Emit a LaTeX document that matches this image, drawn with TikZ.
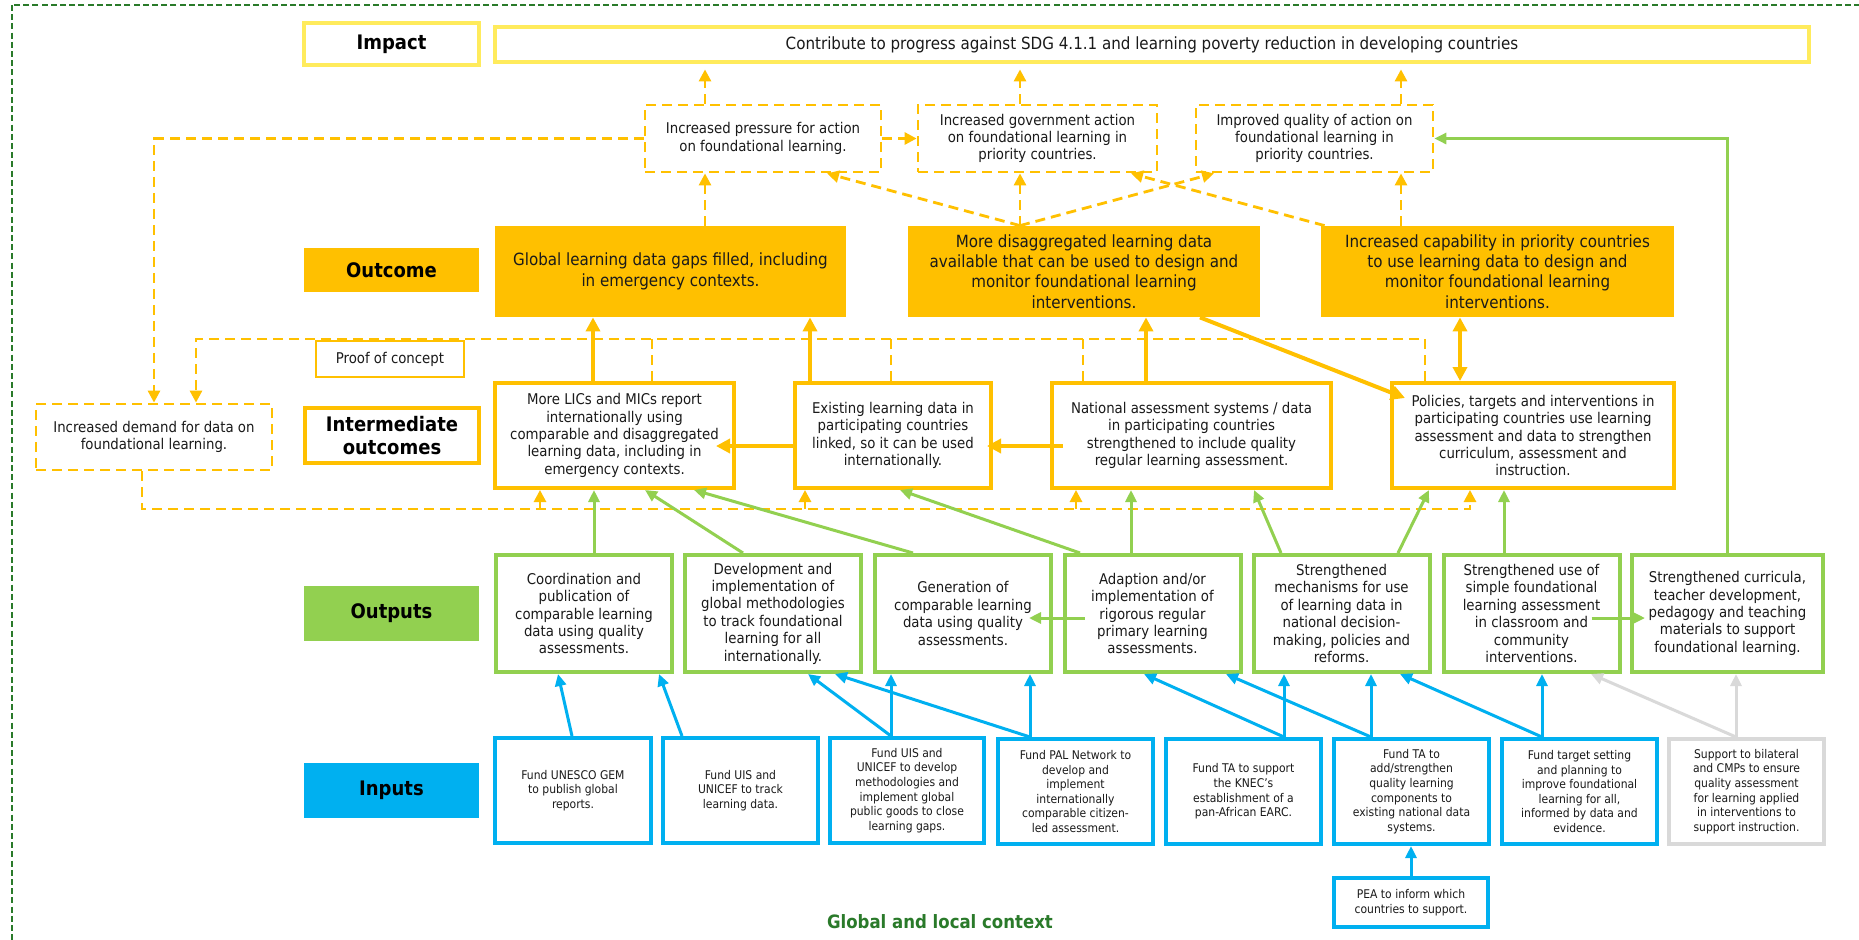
\documentclass[tikz,border=0pt]{standalone}
\usepackage{fontspec}
\setmainfont{DejaVu Sans Condensed}
\usetikzlibrary{arrows.meta,calc}

\definecolor{amber}{HTML}{FFC000}
\definecolor{lemon}{HTML}{FFEB5C}
\definecolor{leaf}{HTML}{92D050}
\definecolor{sky}{HTML}{00B0F0}
\definecolor{mist}{HTML}{D9D9D9}
\definecolor{forest}{HTML}{2A7A2A}
\definecolor{ink}{HTML}{1A1A1A}

\newcommand\fsbody{\fontsize{7.4}{8.7}\selectfont}
\newcommand\fsbig{\fontsize{8.4}{10.2}\selectfont}
\newcommand\fsimp{\fontsize{8.4}{10}\selectfont}
\newcommand\fssmall{\fontsize{6.0}{7.3}\selectfont}
\newcommand\fslab{\fontsize{10}{11.2}\selectfont\bfseries}

\tikzset{
  x=0.5pt, y=-0.5pt,
  sz/.style n args={2}{minimum width=#1*0.5pt, minimum height=#2*0.5pt},
  base/.style={inner sep=0pt, align=center, text=ink, font=\fsbody},
  lab/.style={base, font=\fslab, text=black},
  impbox/.style={base, draw=lemon, line width=2.4pt, fill=white},
  topbox/.style={base, draw=amber, line width=1.4pt, dash pattern=on 5pt off 3pt, fill=white},
  outcbox/.style={base, fill=amber, font=\fsbig},
  interbox/.style={base, draw=amber, line width=2pt, fill=white},
  outbox/.style={base, draw=leaf, line width=2pt, fill=white},
  inbox/.style={base, draw=sky, line width=2pt, fill=white, font=\fssmall},
  greybox/.style={base, draw=mist, line width=2pt, fill=white, font=\fssmall},
  amb/.style={draw=amber, line width=2pt, >={Triangle[length=7pt,width=7pt]}, ->},
  ambd/.style={draw=amber, line width=1.4pt, dash pattern=on 5pt off 3pt, >={Triangle[length=6pt,width=6pt]}, ->},
  ambl/.style={draw=amber, line width=1.4pt, dash pattern=on 5pt off 3pt},
  grn/.style={draw=leaf, line width=1.5pt, >={Triangle[length=6pt,width=5.5pt]}, ->},
  blu/.style={draw=sky, line width=1.5pt, >={Triangle[length=6pt,width=5.5pt]}, ->},
  gry/.style={draw=mist, line width=1.5pt, >={Triangle[length=6pt,width=5.5pt]}, ->},
  frame/.style={draw=forest, line width=1pt, dash pattern=on 3pt off 1.6pt},
}

\begin{document}
\begin{tikzpicture}
\useasboundingbox (0,0) rectangle (1859,939);
\fill[white] (0,0) rectangle (1859,939);
% outer context frame (runs off the right and bottom edges)
\draw[frame] (12,5) rectangle (1880,970);

% ---- row labels ----
\node[lab, sz={175}{42}, draw=lemon, line width=2.4pt] (LImp) at (391.5,44) {Impact};
\node[lab, sz={175}{44}, fill=amber] (LOut) at (391.5,270) {Outcome};
\node[lab, sz={174}{55}, draw=amber, line width=2pt] (LInt) at (392,435.5) {Intermediate\\outcomes};
\node[lab, sz={175}{55}, fill=leaf] (LOutp) at (391.5,613.5) {Outputs};
\node[lab, sz={175}{55}, fill=sky] (LIn) at (391.5,790.5) {Inputs};

% ---- impact ----
\node[impbox, sz={1314}{35}, font=\fsimp] (Imp) at (1152,44.5)
  {Contribute to progress against SDG 4.1.1 and learning poverty reduction in developing countries};

% ---- upper results ----
\node[topbox, sz={236}{67}] (Press) at (763,138.5) {Increased pressure for action\\on foundational learning.};
\node[topbox, sz={239}{67}] (Gov) at (1037.5,138.5) {Increased government action\\on foundational learning in\\priority countries.};
\node[topbox, sz={237}{67}] (Qual) at (1314.5,138.5) {Improved quality of action on\\foundational learning in\\priority countries.};

% ---- outcomes ----
\node[outcbox, sz={351}{91}] (O1) at (670.5,271.5) {Global learning data gaps filled, including\\in emergency contexts.};
\node[outcbox, sz={352}{91}] (O2) at (1084,271.5) {More disaggregated learning data\\available that can be used to design and\\monitor foundational learning\\interventions.};
\node[outcbox, sz={353}{91}] (O3) at (1497.5,271.5) {Increased capability in priority countries\\to use learning data to design and\\monitor foundational learning\\interventions.};

% ---- intermediate outcomes ----
\node[topbox, sz={236}{66}] (Demand) at (154,437) {Increased demand for data on\\foundational learning.};
\node[interbox, sz={239}{105}] (MLIC) at (614.5,435.5) {More LICs and MICs report\\internationally using\\comparable and disaggregated\\learning data, including in\\emergency contexts.};
\node[interbox, sz={196}{105}] (Exist) at (893,435.5) {Existing learning data in\\participating countries\\linked, so it can be used\\internationally.};
\node[interbox, sz={279}{105}] (Nat) at (1191.5,435.5) {National assessment systems / data\\in participating countries\\strengthened to include quality\\regular learning assessment.};
\node[interbox, sz={282}{105}] (Pol) at (1533,435.5) {Policies, targets and interventions in\\participating countries use learning\\assessment and data to strengthen\\curriculum, assessment and\\instruction.};

% ---- outputs ----
\node[outbox, sz={176}{117}] (Coord) at (584,613.5) {Coordination and\\publication of\\comparable learning\\data using quality\\assessments.};
\node[outbox, sz={176}{117}] (Dev) at (773,613.5) {Development and\\implementation of\\global methodologies\\to track foundational\\learning for all\\internationally.};
\node[outbox, sz={176}{117}] (Gen) at (963,613.5) {Generation of\\comparable learning\\data using quality\\assessments.};
\node[outbox, sz={176}{117}] (Adapt) at (1152.5,613.5) {Adaption and/or\\implementation of\\rigorous regular\\primary learning\\assessments.};
\node[outbox, sz={176}{117}] (Mech) at (1341.5,613.5) {Strengthened\\mechanisms for use\\of learning data in\\national decision-\\making, policies and\\reforms.};
\node[outbox, sz={176}{117}] (Use) at (1531.5,613.5) {Strengthened use of\\simple foundational\\learning assessment\\in classroom and\\community\\interventions.};
\node[outbox, sz={191}{117}] (Curr) at (1727.5,613.5) {Strengthened curricula,\\teacher development,\\pedagogy and teaching\\materials to support\\foundational learning.};

% ---- inputs ----
\node[inbox, sz={156}{105}] (GEM) at (573,790.5) {Fund UNESCO GEM\\to publish global\\reports.};
\node[inbox, sz={155}{105}] (UISt) at (740.5,790.5) {Fund UIS and\\UNICEF to track\\learning data.};
\node[inbox, sz={154}{105}] (UISd) at (907,790.5) {Fund UIS and\\UNICEF to develop\\methodologies and\\implement global\\public goods to close\\learning gaps.};
\node[inbox, sz={155}{105}] (PAL) at (1075.5,791.5) {Fund PAL Network to\\develop and\\implement\\internationally\\comparable citizen-\\led assessment.};
\node[inbox, sz={155}{105}] (KNEC) at (1243.5,791.5) {Fund TA to support\\the KNEC’s\\establishment of a\\pan-African EARC.};
\node[inbox, sz={155}{105}] (TAadd) at (1411.5,791.5) {Fund TA to\\add/strengthen\\quality learning\\components to\\existing national data\\systems.};
\node[inbox, sz={155}{105}] (Target) at (1579.5,791.5) {Fund target setting\\and planning to\\improve foundational\\learning for all,\\informed by data and\\evidence.};
\node[greybox, sz={155}{105}] (Support) at (1746.5,791.5) {Support to bilateral\\and CMPs to ensure\\quality assessment\\for learning applied\\in interventions to\\support instruction.};
\node[inbox, sz={154}{49}] (PEA) at (1411,902.5) {PEA to inform which\\countries to support.};

\node[font=\fontsize{9.2}{11}\selectfont\bfseries, text=forest] (Ctx) at (940,922) {Global and local context};

% ---- links up to the impact ----
\draw[ambd, shorten >=2.5pt] ($(Press.north)+(-58,0)$) coordinate (a1) -- (a1 |- Imp.south);
\draw[ambd, shorten >=2.5pt] ($(Gov.north)+(-17.5,0)$) coordinate (a2) -- (a2 |- Imp.south);
\draw[ambd, shorten >=2.5pt] ($(Qual.north)+(86.5,0)$) coordinate (a3) -- (a3 |- Imp.south);

% ---- outcomes to upper results ----
\draw[ambd] ($(O1.north)+(34.5,0)$) coordinate (b1) -- (b1 |- Press.south);
\draw[ambd] ($(O2.north)+(-64,0)$) coordinate (b2) -- (b2 |- Gov.south);
\draw[ambd] (b2) -- ($(Press.south)+(64,0)$);
\draw[ambd] (b2) -- ($(Qual.south)+(-100.5,0)$);
\draw[ambd] ($(O3.north west)+(4,0)$) -- ($(Gov.south)+(93.5,0)$);
\draw[ambd] ($(O3.north)+(-96.5,0)$) coordinate (b3) -- (b3 |- Qual.south);
\draw[ambd] (Press.east) -- (Gov.west);
\draw[ambd] (Press.west) -| (Demand.north);

% ---- proof of concept loop ----
\draw[ambd] ($(Pol.north)+(-108,0)$) -- ++(0,-42) -| ($(Demand.north)+(42,0)$);
\draw[ambl] ($(MLIC.north)+(37.5,0)$) -- ++(0,-42);
\draw[ambl] ($(Exist.north)+(-2,0)$) -- ++(0,-42);
\draw[ambl] ($(Nat.north)+(-108.5,0)$) -- ++(0,-42);
\node[base, sz={148}{36}, draw=amber, line width=1pt, fill=white] (Proof) at (390,359) {Proof of concept};

% ---- demand feeding back below the intermediate outcomes ----
\draw[ambd] ($(Demand.south)+(-12,0)$) |- ($(Pol.south)+(-63,19)$) -- ($(Pol.south)+(-63,0)$);
\draw[ambd] ($(MLIC.south)+(-74.5,19)$) -- ++(0,-19);
\draw[ambd] ($(Exist.south)+(-88,19)$) -- ++(0,-19);
\draw[ambd] ($(Nat.south)+(-115.5,19)$) -- ++(0,-19);

% ---- intermediate outcomes to outcomes ----
\draw[amb] ($(MLIC.north)+(-21.5,0)$) coordinate (c1) -- (c1 |- O1.south);
\draw[amb] ($(Exist.north)+(-83,0)$) coordinate (c2) -- (c2 |- O1.south);
\draw[amb] ($(Nat.north)+(-45.5,0)$) coordinate (c3) -- (c3 |- O2.south);
\draw[amb] ($(O2.south)+(116,0)$) -- ($(Pol.north west)+(15,17)$);
\draw[amb, <->] ($(O3.south)+(-37.5,0)$) coordinate (c4) -- (c4 |- Pol.north);
\draw[amb] ($(Exist.west)+(0,10.5)$) -- ($(MLIC.east)+(-20,10.5)$);
\draw[amb] ($(Nat.west)+(13,10.5)$) -- ($(Exist.east)+(-6,10.5)$);

% ---- outputs to intermediate outcomes ----
\draw[grn] ($(Coord.north)+(10,0)$) -- ($(MLIC.south)+(-20.5,0)$);
\draw[grn] ($(Dev.north)+(-30,0)$) -- ($(MLIC.south)+(30.5,0)$);
\draw[grn] ($(Gen.north)+(-50,0)$) -- ($(MLIC.south)+(79.5,0)$);
\draw[grn] ($(Adapt.north)+(-72.5,0)$) -- ($(Exist.south)+(7,0)$);
\draw[grn] ($(Adapt.north)+(-21.5,0)$) -- ($(Nat.south)+(-60.5,0)$);
\draw[grn] ($(Mech.north)+(-60.5,0)$) -- ($(Nat.south)+(62.5,0)$);
\draw[grn] ($(Mech.north)+(56.5,0)$) -- ($(Pol.south)+(-104,0)$);
\draw[grn] ($(Use.north)+(-27.5,0)$) -- ($(Pol.south)+(-29,0)$);
\draw[grn] (Curr.north) |- (Qual.east);
\draw[grn] ($(Adapt.west)+(22,4.5)$) -- ($(Gen.east)+(-24,4.5)$);
\draw[grn] ($(Use.east)+(-30,4.5)$) -- ($(Curr.west)+(15,4.5)$);

% ---- inputs to outputs ----
\draw[blu] ($(GEM.north)+(-1,0)$) -- ($(Coord.south)+(-26,0)$);
\draw[blu] ($(UISt.north)+(-58.5,0)$) -- ($(Coord.south)+(75,0)$);
\draw[blu] ($(UISd.north)+(-16,0)$) coordinate (d1) -- ($(Dev.south)+(35,0)$);
\draw[blu] (d1) -- (d1 |- Gen.south);
\draw[blu] ($(PAL.north)+(-45.5,0)$) coordinate (d2) -- ($(Dev.south)+(62,0)$);
\draw[blu] (d2) -- (d2 |- Gen.south);
\draw[blu] ($(KNEC.north)+(40.5,0)$) coordinate (d3) -- ($(Adapt.south)+(-8.5,0)$);
\draw[blu] (d3) -- (d3 |- Mech.south);
\draw[blu] ($(TAadd.north)+(-40.5,0)$) coordinate (d4) -- ($(Adapt.south)+(73.5,0)$);
\draw[blu] (d4) -- (d4 |- Mech.south);
\draw[blu] ($(Target.north)+(-37.5,0)$) coordinate (d5) -- ($(Mech.south)+(58.5,0)$);
\draw[blu] (d5) -- (d5 |- Use.south);
\draw[blu] (PEA.north) -- (PEA.north |- TAadd.south);
\draw[gry] ($(Support.north)+(-10.5,0)$) coordinate (d6) -- ($(Use.south)+(59.5,0)$);
\draw[gry] (d6) -- (d6 |- Curr.south);
\end{tikzpicture}
\end{document}
